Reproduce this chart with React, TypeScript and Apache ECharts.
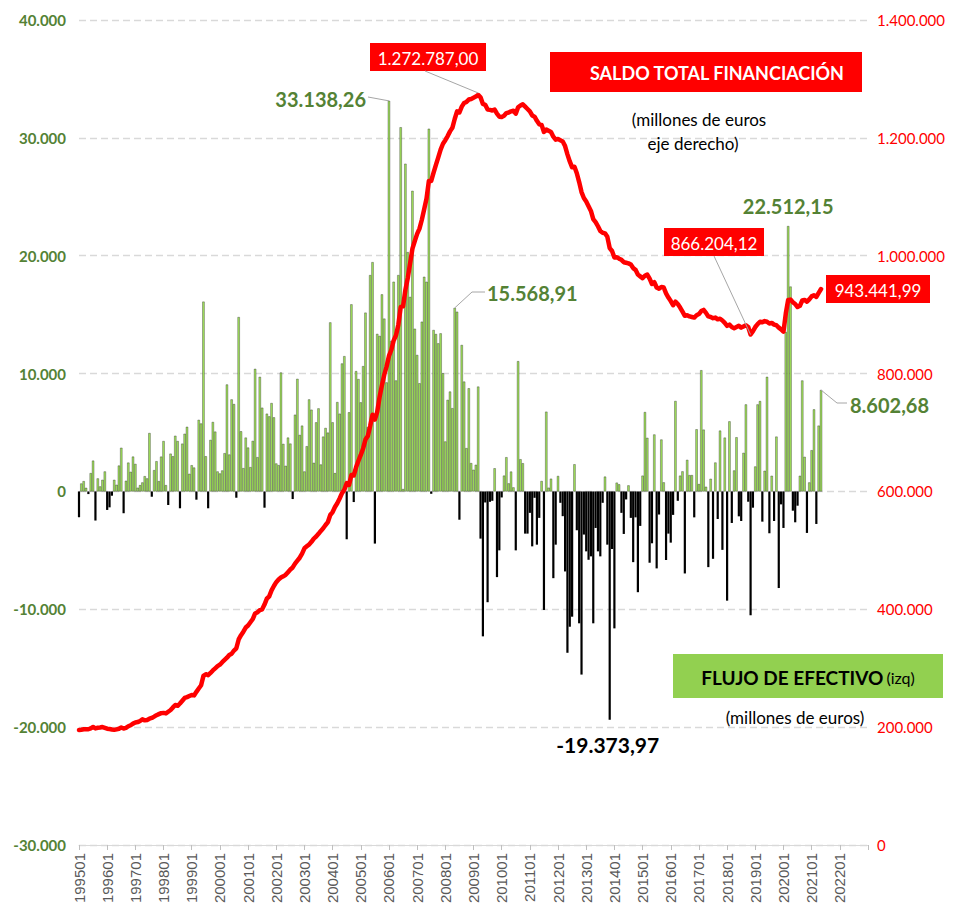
import React, { useEffect, useRef } from 'react';
import * as echarts from 'echarts';

// ---------- categories (monthly, 199501 .. 202301) ----------
const START_YEAR = 1995;
const N_CATEGORIES = 337;
const categories: string[] = [];
for (let k = 0; k < N_CATEGORIES; k++) {
  const y = START_YEAR + Math.floor(k / 12);
  const m = (k % 12) + 1;
  categories.push(`${y}${m < 10 ? '0' + m : m}`);
}

// ---------- Flujo de efectivo (millones de euros, eje izq) ----------
const flujo1995_1999 = [
  -2190, 670, 870, 300, -225, 1550, 2610, -2470, 1100, 420, 980, 1690,
  -1570, -1350, -365, 980, 560, 2190, 3700, -1850, 900, 2440, 1660, 2950,
  2330, 310, 530, 760, 1290, 1100, 4950, -450, 1800, 2560, 870, 2950,
  4270, 530, -1150, 3200, 2980, 4720, 4270, -1430, 4050, 4890, 5480, 1490,
  2220, 2020, -700, 6070, 5760, 16100, 2980, -1430, 4366, 5888, 5071, 1690,
];
const flujo2000_2004 = [
  1521, 1775, 3240, 9071, 3127, 7803, 7409, -535, 14790, 5099, 1972, 4564,
  3718, 2056, 4282, 10395, 2902, 9719, 7099, -1380, 6592, 6366, 7493, 6282,
  2366, 2225, 10085, 4028, 2169, 4564, 4056, -648, 6507, 9550, 4789, 5578,
  1690, 3831, 7803, 6930, 2423, 5859, 7043, 2282, 4648, 5380, 4986, 14339,
  5859, 1549, 7578, 6592, 10853, 11473, -4059, 6709, 15871, -902, 10205, 9528,
];
const flujo2005_2009 = [
  7555, 10628, 15166, 5441, 18352, 19451, -4426, 13362, 13193, 16717, 14659, 9246,
  33138.26, 12770, 17788, 9415, 18352, 30896, 200, 27800, 20300, 16500, 25500, 13800,
  11574, 9175, 14397, 18208, 17785, 30770, -200, 13692, 13353, 12562, 13409, 10022,
  4234, 7763, 8469, 7058, 15568.91, 15244, -2400, 12421, 9316, 3670, 8751, 2400,
  1835, 2258, 8892, -4004, -12297, -937, -9400, -880, -795, 1960, -7270, -5000,
];
const flujo2010_2014 = [
  -511, 1335, 2900, 680, 1680, 340, -5000, 11050, 2727, 2386, -3580, -3580,
  -1818, -4660, -540, -4517, -2244, 880, -10057, 6761, 312, 1080, -7360, -4517,
  1307, -966, -2100, -6790, -13690, -11480, -10630, 2300, -3295, -11190, -15540, -3660,
  -5085, -5800, -5510, -11190, -3100, -5085, -5510, -966, 1250, -4517, -19373.97, -4886,
  -11620, 740, 600, -1818, -3608, -680, 511, -2244, -6000, -2200, -8550, -2925,
];
const flujo2015_2021 = [
  1335, 6730, 4544, -6050, -4400, 4828, -6530, -1960, 4400, 767, -5820, -3580,
  -4345, -1990, 7670, -795, 1335, 1700, -6960, 2676, 1380, 1380, -2200, 5268,
  620, 10282, 5240, 394, -6423, 1070, -5718, 2450, -2338, 5155, -4958, 4563,
  -9268, 5943, -2676, 1775, 4592, -2113, -2507, 3268, 7380, -873, -10507, -1380,
  2113, 7380, 7662, -2563, 1747, 9719, -3550, 1324, -2507, 4648, -8197, -1099,
  -3099, 13522, 22512.15, 17380, -1634, -2620, -1211, 1324, 9409, 2930, -3521, 760,
  3493, 6958, -2760, 5578, 8602.68,
];

// ---------- Saldo total financiación (millones de euros, eje dcho) ----------
const saldo1995_1999 = [
  195000, 195500, 196300, 196600, 196400, 197900, 200300, 197900, 198900, 199300, 200200, 198800,
  197400, 196800, 196000, 195400, 196300, 197200, 199400, 197700, 198800, 201500, 203200, 206000,
  207800, 208600, 210400, 213200, 211500, 212200, 214300, 215600, 217800, 220300, 222100, 223800,
  224200, 223300, 226200, 229100, 233500, 237600, 236200, 240100, 244800, 249500, 250900, 252800,
  254600, 253900, 259900, 265500, 271000, 287000, 289800, 288300, 292000, 296200, 299800, 303500,
];
const saldo2000_2004 = [
  306000, 310200, 314000, 317800, 322500, 324600, 330000, 333800, 348800, 356000, 362000, 369000,
  372500, 378000, 383500, 393000, 395000, 398500, 400000, 408000, 418000, 422000, 432000, 439500,
  446000, 450500, 453800, 456000, 458500, 463000, 467500, 471000, 477500, 482500, 487500, 494500,
  503500, 506800, 510000, 514500, 520000, 523500, 528000, 533000, 537500, 543000, 548000, 560000,
  565000, 573500, 580000, 588000, 597000, 603000, 614000, 611000, 628000, 627000, 641000, 652000,
];
const saldo2005_2009 = [
  662000, 673000, 688000, 694000, 711000, 730000, 722000, 735000, 760000, 780000, 798000, 812000,
  830000, 840000, 856000, 865000, 883000, 913000, 914000, 942000, 962000, 987000, 1012000, 1025000,
  1037000, 1046000, 1061000, 1079000, 1097000, 1127000, 1127000, 1141000, 1154000, 1167000, 1180000, 1190000,
  1196000, 1203000, 1211000, 1217000, 1232000, 1245000, 1243000, 1253000, 1259000, 1261000, 1265000, 1266000,
  1268000, 1270000, 1272787, 1268800, 1257500, 1256000, 1248000, 1247500, 1246500, 1248000, 1241000, 1236000,
];
const saldo2010_2014 = [
  1235500, 1237500, 1242000, 1243000, 1245000, 1246000, 1241000, 1252000, 1255000, 1257000, 1253000, 1249000,
  1245000, 1238000, 1236000, 1229000, 1223000, 1222000, 1210000, 1214000, 1212000, 1210000, 1202000, 1197000,
  1198000, 1196000, 1194000, 1186000, 1172000, 1160000, 1150000, 1151000, 1140000, 1125000, 1108000, 1098000,
  1092000, 1084000, 1076000, 1062000, 1057000, 1050000, 1042000, 1039000, 1038000, 1032000, 1013000, 1008000,
  997000, 997500, 995000, 993000, 989000, 988000, 987000, 985000, 979000, 976000, 968000, 965000,
];
const saldo2015_2021 = [
  962000, 966000, 968000, 961000, 952000, 955000, 946000, 944000, 947000, 946000, 936000, 929000,
  923000, 916000, 922000, 918000, 912000, 905000, 898000, 899000, 897000, 896000, 895000, 899000,
  901000, 906000, 908000, 903000, 897000, 896000, 894000, 895000, 892000, 893000, 890000, 886000,
  881000, 883000, 879000, 877000, 879000, 881000, 878000, 880000, 882000, 879000, 866204.12, 872000,
  879000, 884000, 888000, 887000, 889000, 888000, 885000, 886000, 883000, 882000, 878000, 875000,
  871000, 902000, 925000, 925500, 921000, 918000, 913000, 915000, 924000, 925000, 922000, 926000,
  931000, 933000, 930000, 937000, 943441.99,
];

// ---------- axes ----------
const leftTicks = { min: -30000, max: 40000, interval: 10000 };
const rightTicks = { min: 0, max: 1400000, interval: 200000 };

const flujo = [...flujo1995_1999, ...flujo2000_2004, ...flujo2005_2009, ...flujo2010_2014, ...flujo2015_2021];
const saldo = [...saldo1995_1999, ...saldo2000_2004, ...saldo2005_2009, ...saldo2010_2014, ...saldo2015_2021];

const fmtThousands = (v: number) => {
  const neg = v < 0;
  const s = Math.round(Math.abs(v)).toString().replace(/\B(?=(\d{3})+(?!\d))/g, '.');
  return (neg ? '-' : '') + s;
};

const FONT = 'Lato, "Noto Sans", sans-serif';
const GREEN_TXT = '#548235';

export default function App() {
  const ref = useRef<HTMLDivElement>(null);

  useEffect(() => {
    const chart = echarts.init(ref.current!, null, { renderer: 'svg' });

    const barData = flujo.map((v) => ({
      value: v,
      itemStyle: v >= 0
        ? { color: '#A2E35C', borderColor: '#1A1A1A', borderWidth: 0.35 }
        : { color: '#000000', borderColor: '#000000', borderWidth: 0 },
    }));

    chart.setOption({
      animation: false,
      textStyle: { fontFamily: FONT },
      grid: { left: 79, right: 85, top: 20, bottom: 76, containLabel: false },
      xAxis: {
        type: 'category',
        data: categories,
        boundaryGap: false,
        axisLine: { onZero: false, lineStyle: { color: '#D9D9D9', width: 1 } },
        axisTick: {
          show: true,
          length: 5,
          interval: (i: number) => i % 12 === 0,
          lineStyle: { color: '#BFBFBF' },
        },
        axisLabel: {
          rotate: 90,
          interval: (i: number) => i % 12 === 0 && i < 336,
          color: '#595959',
          fontSize: 15,
          fontFamily: 'Liberation Sans, Arial, sans-serif',
          margin: 8,
        },
        splitLine: { show: false },
      },
      yAxis: [
        {
          type: 'value',
          min: leftTicks.min,
          max: leftTicks.max,
          interval: leftTicks.interval,
          axisLine: { show: false },
          axisTick: { show: false },
          axisLabel: {
            color: GREEN_TXT,
            fontWeight: 'bold',
            fontSize: 15,
            fontFamily: FONT,
            margin: 13,
            formatter: (v: number) => fmtThousands(v),
          },
          splitLine: { show: true, lineStyle: { color: '#D9D9D9', type: [7, 4], width: 1.3 } },
        },
        {
          type: 'value',
          min: rightTicks.min,
          max: rightTicks.max,
          interval: rightTicks.interval,
          position: 'right',
          axisLine: { show: false },
          axisTick: { show: false },
          axisLabel: {
            color: '#FF0000',
            fontSize: 15,
            fontFamily: FONT,
            margin: 9,
            formatter: (v: number) => fmtThousands(v),
          },
          splitLine: { show: false },
        },
      ],
      series: [
        {
          name: 'Flujo de efectivo',
          type: 'bar',
          yAxisIndex: 0,
          data: barData,
          barWidth: 2.2,
          clip: false,
          z: 2,
        },
        {
          name: 'Saldo total financiación',
          type: 'line',
          yAxisIndex: 1,
          data: saldo,
          showSymbol: false,
          symbol: 'none',
          smooth: false,
          lineStyle: { color: '#FF0000', width: 4.5, join: 'round', cap: 'round' },
          z: 3,
        },
      ],
    });

    const px = (i: number, v: number, yi: number) =>
      chart.convertToPixel({ xAxisIndex: 0, yAxisIndex: yi }, [i, v]) as number[];

    const iMaxBar = flujo.indexOf(33138.26);
    const iBar2 = flujo.indexOf(15568.91);
    const iMinBar = flujo.indexOf(-19373.97);
    const iCovid = flujo.indexOf(22512.15);
    const iLast = flujo.length - 1;
    const iPeak = saldo.indexOf(1272787);
    const iMinSaldo = saldo.indexOf(866204.12);

    const pMaxBar = px(iMaxBar, flujo[iMaxBar], 0);
    const pBar2 = px(iBar2, flujo[iBar2], 0);
    const pLast = px(iLast, flujo[iLast], 0);
    const pPeak = px(iPeak, saldo[iPeak], 1);
    const pMin = px(iMinSaldo, saldo[iMinSaldo], 1);
    const pCovid = px(iCovid, flujo[iCovid], 0);
    const pMinBar = px(iMinBar, flujo[iMinBar], 0);

    const callout = { stroke: '#A6A6A6', lineWidth: 1, fill: null };
    const greenLabel = (text: string, x: number, y: number, align: string) => ({
      type: 'text', x, y, z: 10,
      style: { text, fill: GREEN_TXT, fontSize: 20, fontWeight: 'bold', fontFamily: FONT, align, verticalAlign: 'middle' },
    });
    const redBox = (text: string, x: number, y: number, w: number, h: number, fs: number, bold: boolean, tx?: number) => ({
      type: 'group', z: 10,
      children: [
        { type: 'rect', shape: { x, y, width: w, height: h }, style: { fill: '#FF0000' } },
        {
          type: 'text', x: tx !== undefined ? tx : x + w / 2, y: y + h / 2 + 1,
          style: { text, fill: '#FFFFFF', fontSize: fs, fontWeight: bold ? 'bold' : 'normal', fontFamily: FONT, align: 'center', verticalAlign: 'middle' },
        },
      ],
    });
    const plain = (text: string, x: number, y: number) => ({
      type: 'text', x, y, z: 10,
      style: { text, fill: '#000000', fontSize: 17, fontFamily: FONT, align: 'center', verticalAlign: 'middle' },
    });

    chart.setOption({
      graphic: [
        // callouts
        { type: 'polyline', z: 9, shape: { points: [[368, 97], [pMaxBar[0], pMaxBar[1]]] }, style: callout },
        { type: 'polyline', z: 9, shape: { points: [[485, 292], [472, 292], [pBar2[0], pBar2[1]]] }, style: callout },
        { type: 'polyline', z: 9, shape: { points: [[pLast[0], pLast[1]], [837, 403], [847, 403]] }, style: callout },
        { type: 'polyline', z: 9, shape: { points: [[425, 71], [pPeak[0], pPeak[1] - 2]] }, style: callout },
        { type: 'polyline', z: 9, shape: { points: [[714, 256], [pMin[0], pMin[1]]] }, style: callout },

        greenLabel('33.138,26', 366, 99, 'right'),
        greenLabel('15.568,91', 487, 293, 'left'),
        greenLabel('22.512,15', pCovid[0], 206, 'center'),
        greenLabel('8.602,68', 850, 405, 'left'),
        {
          type: 'text', x: pMinBar[0] - 2, y: 744, z: 10,
          style: { text: '-19.373,97', fill: '#000000', fontSize: 21, fontWeight: 'bold', fontFamily: FONT, align: 'center', verticalAlign: 'middle' },
        },

        redBox('1.272.787,00', 370, 43, 116, 28, 17, false),
        redBox('866.204,12', 664, 228, 100, 28, 17, false),
        redBox('943.441,99', 826, 275, 104, 28, 17, false),
        redBox('SALDO TOTAL FINANCIACIÓN', 550, 52, 312, 40, 18, true, 717),

        plain('(millones de euros', 699, 119),
        plain('eje derecho)', 693, 143),

        {
          type: 'group', z: 10,
          children: [
            { type: 'rect', shape: { x: 673, y: 654, width: 270, height: 44 }, style: { fill: '#92D050' } },
            {
              type: 'text', x: 808, y: 677,
              style: {
                text: '{b|FLUJO DE EFECTIVO} {n|(izq)}',
                fill: '#000', align: 'center', verticalAlign: 'middle', fontFamily: FONT,
                rich: {
                  b: { fontSize: 19, fontWeight: 'bold', fill: '#000', fontFamily: FONT },
                  n: { fontSize: 16, fill: '#000', fontFamily: FONT },
                },
              },
            },
          ],
        },
        plain('(millones de euros)', 795, 717),
      ],
    });

    return () => chart.dispose();
  }, []);

  return (
    <div
      ref={ref}
      style={{ position: 'fixed', left: 0, top: 0, width: 953, height: 921, background: '#FFFFFF' }}
    />
  );
}
